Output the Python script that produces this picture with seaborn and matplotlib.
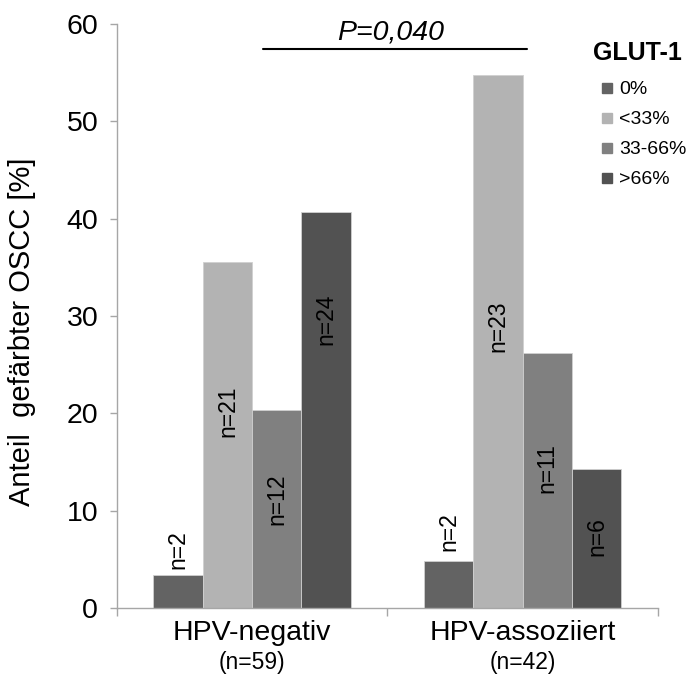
import matplotlib
matplotlib.use("Agg")
import matplotlib.pyplot as plt
from matplotlib.lines import Line2D
import matplotlib.transforms as mtransforms
import seaborn as sns
import pandas as pd

# ---- data ----
groups = ["HPV-negativ", "HPV-assoziiert"]
group_n = ["(n=59)", "(n=42)"]
glut_levels = ["0%", "<33%", "33-66%", ">66%"]
pct_hpv_neg = [3.4, 35.6, 20.3, 40.7]
pct_hpv_pos = [4.8, 54.8, 26.2, 14.3]
n_hpv_neg = [2, 21, 12, 24]
n_hpv_pos = [2, 23, 11, 6]
p_text = "P=0,040"

# ---- layout / style ----
colors = ["#636363", "#b3b3b3", "#808080", "#525252"]
label_y_neg = [6.0, 20.2, 11.2, 29.7]
label_y_pos = [7.8, 28.9, 14.4, 7.3]

rows = []
for g, vals in zip(groups, [pct_hpv_neg, pct_hpv_pos]):
    for lvl, v in zip(glut_levels, vals):
        rows.append({"group": g, "glut": lvl, "pct": v})
df = pd.DataFrame(rows)

sns.set_style("white")
plt.rcParams["font.family"] = ["Liberation Sans", "DejaVu Sans"]
plt.rcParams["text.color"] = "black"
plt.rcParams["xtick.labelcolor"] = "black"
plt.rcParams["ytick.labelcolor"] = "black"

fig = plt.figure(figsize=(6.88, 6.84), dpi=100)
ax = fig.add_axes([0.170, 0.1111, 0.786, 0.8538])

sns.barplot(data=df, x="group", y="pct", hue="glut", hue_order=glut_levels,
            order=groups, palette=colors, width=0.73, gap=0,
            edgecolor="#d0d0d0", linewidth=0.6, ax=ax, legend=False)

ax.set_xlim(-0.5, 1.5)
ax.set_ylim(0, 60)
ax.set_yticks(range(0, 61, 10))
ax.tick_params(axis="y", labelsize=20.5, length=5, width=1, color="#a6a6a6",
               direction="out", left=True, pad=8.5)
for s in ["top", "right"]:
    ax.spines[s].set_visible(False)
for s in ["left", "bottom"]:
    ax.spines[s].set_color("#a6a6a6")
    ax.spines[s].set_linewidth(1)

# category separators as ticks, labels as text
ax.set_xticks([-0.5, 0.5, 1.5])
ax.set_xticklabels([])
ax.tick_params(axis="x", length=6, width=1, color="#a6a6a6", direction="out", bottom=True)
ax.set_xlabel("")
ax.set_ylabel("")
trans = mtransforms.blended_transform_factory(ax.transData, ax.transAxes)
for i, (g, n) in enumerate(zip(groups, group_n)):
    ax.text(i, -0.043, g, transform=trans, ha="center", va="center", fontsize=20.5)
    ax.text(i, -0.093, n, transform=trans, ha="center", va="center", fontsize=16.5)

fig.text(22 / 688, 1 - 332 / 684, "Anteil  gefärbter OSCC [%]", rotation=90,
         ha="center", va="center", fontsize=21)

# n labels
label_ys = [label_y_neg, label_y_pos]
ns = [n_hpv_neg, n_hpv_pos]
for h, cont in enumerate(ax.containers):
    for gi, bar in enumerate(cont):
        xc = bar.get_x() + bar.get_width() / 2
        ax.text(xc, label_ys[gi][h], f"n={ns[gi][h]}", rotation=90,
                ha="center", va="center", fontsize=16.5)

# significance bar
ax.plot([0.04, 1.015], [57.4, 57.4], color="black", lw=1.5, clip_on=False)
ax.text(0.513, 59.1, p_text, ha="center", va="center", fontsize=20.5,
        style="italic", clip_on=False)

# legend
fig.text(593 / 688, 1 - 53 / 684, "GLUT-1", ha="left", va="center",
         fontsize=18, fontweight="bold")
handles = [Line2D([0], [0], marker="s", linestyle="none", markersize=7,
                  markerfacecolor=c, markeredgecolor=c) for c in colors]
leg = fig.legend(handles, glut_levels, loc="upper left",
                 bbox_to_anchor=(590 / 688, 1 - 71 / 684), frameon=False,
                 fontsize=14, handlelength=0.7,
                 handletextpad=0.3, labelspacing=0.64, borderpad=0)

fig.savefig("out.png", dpi=100)
